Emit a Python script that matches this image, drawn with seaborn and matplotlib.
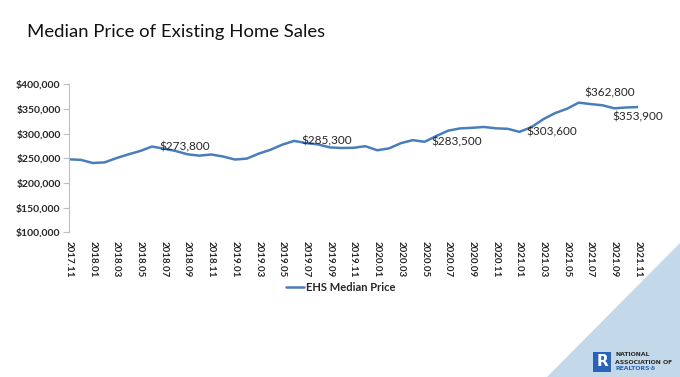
import numpy as np
import pandas as pd
import matplotlib
matplotlib.use("Agg")
import matplotlib.pyplot as plt
import seaborn as sns
from matplotlib.patches import Polygon, Rectangle

# данные: медианная цена, помесячно 2017.11 - 2021.11
months = ['2017.11', '2017.12',
          '2018.01', '2018.02', '2018.03', '2018.04', '2018.05', '2018.06',
          '2018.07', '2018.08', '2018.09', '2018.10', '2018.11', '2018.12',
          '2019.01', '2019.02', '2019.03', '2019.04', '2019.05', '2019.06',
          '2019.07', '2019.08', '2019.09', '2019.10', '2019.11', '2019.12',
          '2020.01', '2020.02', '2020.03', '2020.04', '2020.05', '2020.06',
          '2020.07', '2020.08', '2020.09', '2020.10', '2020.11', '2020.12',
          '2021.01', '2021.02', '2021.03', '2021.04', '2021.05', '2021.06',
          '2021.07', '2021.08', '2021.09', '2021.10', '2021.11']
prices = [248000, 246800,
          240500, 241700, 250400, 257900, 264800, 273800,
          269600, 264800, 258100, 255400, 257700, 253600,
          247500, 249400, 259400, 267300, 277700, 285300,
          280800, 278200, 272100, 270900, 271300, 274500,
          266300, 270100, 280700, 286800, 283500, 295300,
          306100, 310600, 311800, 313500, 310800, 309800,
          303600, 313000, 329100, 341600, 350300, 362800,
          359900, 357500, 351300, 353000, 353900]

# подписи точек: месяц -> положение
labeled = {'2018.06': 'right', '2019.06': 'right', '2020.05': 'right',
           '2021.01': 'right', '2021.06': 'above', '2021.11': 'below'}

df = pd.DataFrame({'idx': np.arange(len(months)), 'month': months, 'price': prices})

sns.set_style('white')
plt.rcParams['font.family'] = ['Lato', 'DejaVu Sans']

fig = plt.figure(figsize=(6.8, 3.77), dpi=100)

# фон: голубой треугольник в углу
fig.patches.append(Polygon([[1.0, 1 - 243 / 377], [1.0, 0.0], [547 / 680, 0.0]],
                           closed=True, transform=fig.transFigure,
                           facecolor='#c3d9ea', edgecolor='none', zorder=-1))

ax = fig.add_axes([69 / 680, 1 - 232.3 / 377, (638 - 69) / 680, (232.3 - 84.3) / 377])
ax.patch.set_alpha(0)

sns.lineplot(data=df, x='idx', y='price', ax=ax, color='#4a7ebb', linewidth=1.8,
             label='EHS Median Price', legend=False)

ax.set_xlim(0, len(months) - 1)
ax.set_ylim(100000, 400000)
ax.set_yticks(np.arange(100000, 400001, 50000))
ax.yaxis.set_major_formatter(matplotlib.ticker.FuncFormatter(lambda v, p: f'${v:,.0f}'))
ax.set_xticks(df['idx'][::2])
ax.set_xticklabels(df['month'][::2], rotation=270, fontsize=7, fontweight='bold')
for t in ax.get_yticklabels():
    t.set_fontweight('bold')
    t.set_fontsize(7.5)
ax.tick_params(axis='y', length=4, width=0.8, color='#bfbfbf', pad=2, left=True)
ax.tick_params(axis='x', length=0, pad=6)
ax.set_xlabel('')
ax.set_ylabel('')

for side in ['top', 'right', 'bottom']:
    ax.spines[side].set_visible(False)
ax.spines['left'].set_color('#bfbfbf')
ax.spines['left'].set_linewidth(0.8)

for m, pos in labeled.items():
    i = months.index(m)
    v = prices[i]
    txt = f'${v:,.0f}'
    if pos == 'right':
        ax.annotate(txt, (i, v), xytext=(5, 0), textcoords='offset points',
                    ha='left', va='center', fontsize=8.5)
    elif pos == 'above':
        ax.annotate(txt, (i, v), xytext=(4, 3), textcoords='offset points',
                    ha='left', va='bottom', fontsize=8.5)
    else:
        ax.annotate(txt, (i, v), xytext=(0, -3), textcoords='offset points',
                    ha='center', va='top', fontsize=8.5)

ax.legend(loc='upper center', bbox_to_anchor=(0.478, -0.27), frameon=False,
          handlelength=1.6, handletextpad=0.2, prop={'weight': 'bold', 'size': 8})

fig.text(27 / 680, 1 - 32 / 377, 'Median Price of Existing Home Sales',
         fontsize=13.3, va='center', ha='left', color='#111111')

# логотип NAR
fig.patches.append(Rectangle((593 / 680, 1 - 372 / 377), 18 / 680, 20 / 377,
                             transform=fig.transFigure, facecolor='#2a64b8',
                             edgecolor='none', zorder=2))
fig.text(602 / 680, 1 - 362 / 377, 'R', fontsize=11, fontweight='bold', color='white',
         ha='center', va='center', family='DejaVu Sans')
for k, (s, c) in enumerate([('NATIONAL', '#2b2b2b'), ('ASSOCIATION OF', '#2b2b2b'),
                            ('REALTORS®', '#2a64b8')]):
    fig.text(615 / 680, 1 - (355 + 7 * k) / 377, s, fontsize=4.4, fontweight='bold',
             color=c, va='center', family='DejaVu Sans')

fig.savefig('out.png', dpi=100)
